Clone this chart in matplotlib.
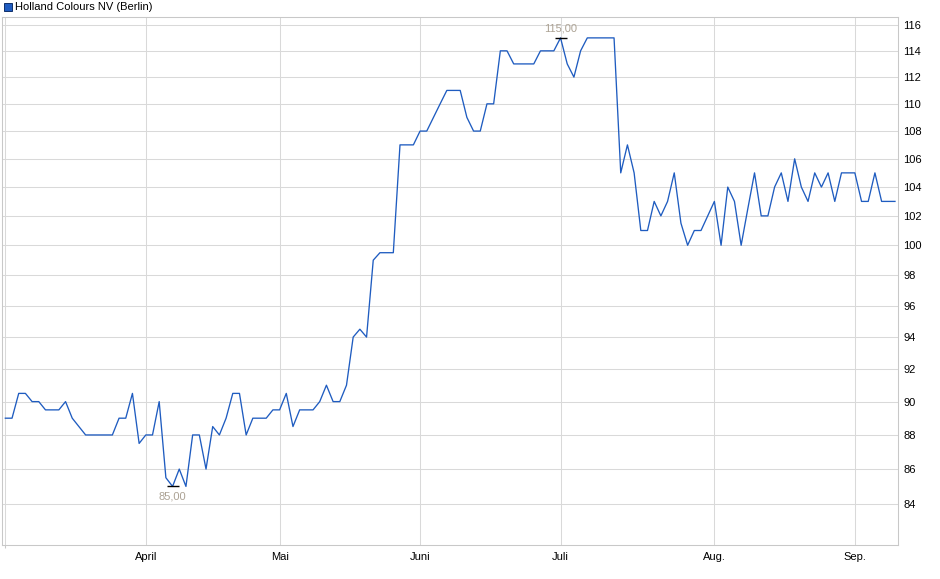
import numpy as np
import matplotlib
matplotlib.use('Agg')
import matplotlib.pyplot as plt
from matplotlib.ticker import FixedLocator, FixedFormatter, NullLocator, NullFormatter
from matplotlib.patches import Rectangle

# daily closing prices (trading days)
prices = [
    89, 89, 90.5, 90.5, 90, 90, 89.5, 89.5, 89.5, 90,
    89, 88.5, 88, 88, 88, 88, 88, 89, 89, 90.5,
    87.5, 88, 88, 90, 85.5, 85, 86, 85, 88, 88,
    86, 88.5, 88, 89, 90.5, 90.5, 88, 89, 89, 89,
    89.5, 89.5, 90.5, 88.5, 89.5, 89.5, 89.5, 90, 91, 90,
    90, 91, 94, 94.5, 94, 99, 99.5, 99.5, 99.5, 107,
    107, 107, 108, 108, 109, 110, 111, 111, 111, 109,
    108, 108, 110, 110, 114, 114, 113, 113, 113, 113,
    114, 114, 114, 115, 113, 112, 114, 115, 115, 115,
    115, 115, 105, 107, 105, 101, 101, 103, 102, 103,
    105, 101.5, 100, 101, 101, 102, 103, 100, 104, 103,
    100, 102.5, 105, 102, 102, 104, 105, 103, 106, 104,
    103, 105, 104, 105, 103, 105, 105, 105, 103, 103,
    105, 103, 103, 103,
]

# index of first trading day of each month
month_idx = [21, 41, 62, 83, 106, 127]
month_labels = ['April', 'Mai', 'Juni', 'Juli', 'Aug.', 'Sep.']

y_ticks = [84, 86, 88, 90, 92, 94, 96, 98, 100, 102, 104, 106, 108, 110, 112, 114, 116]

title = 'Holland Colours NV (Berlin)'

plt.rcParams['font.family'] = ['Liberation Sans', 'DejaVu Sans']

line_col = '#1f5cc0'
grid_col = '#d9d9d9'
spine_col = '#c8c8c8'
note_col = '#aca294'

fig = plt.figure(figsize=(9.4, 5.79), dpi=100)
ax = fig.add_axes([2 / 940, 34 / 579, 896 / 940, 528 / 579])

x = np.arange(len(prices))
ax.plot(x, prices, color=line_col, lw=0.95, zorder=3)

ax.set_yscale('log')
ax.set_ylim(81.71, 116.63)
ax.set_xlim(-0.5, 133.45)

ax.yaxis.set_major_locator(FixedLocator(y_ticks))
ax.yaxis.set_major_formatter(FixedFormatter([str(t) for t in y_ticks]))
ax.yaxis.set_minor_locator(NullLocator())
ax.yaxis.tick_right()
ax.tick_params(axis='y', length=0, pad=4, labelsize=8)

ax.xaxis.set_major_locator(FixedLocator(month_idx))
ax.xaxis.set_major_formatter(FixedFormatter(month_labels))
ax.tick_params(axis='x', which='major', length=0, pad=5, labelsize=8)
# start-of-data line with a small tick
ax.xaxis.set_minor_locator(FixedLocator([0]))
ax.xaxis.set_minor_formatter(NullFormatter())
ax.tick_params(axis='x', which='minor', length=2.5, width=0.75, color=spine_col)

ax.grid(True, which='major', color=grid_col, lw=0.75, zorder=0)
ax.grid(True, which='minor', axis='x', color=grid_col, lw=0.75, zorder=0)
for s in ax.spines.values():
    s.set_color(spine_col)
    s.set_linewidth(0.75)

# min / max annotations
prices_arr = np.array(prices)
i_min = int(np.argmin(prices_arr))
i_max = int(np.argmax(prices_arr))
ax.plot([i_min], [prices[i_min]], marker='_', ms=9, mew=1.0, color='black', zorder=4)
ax.plot([i_max], [prices[i_max]], marker='_', ms=9, mew=1.0, color='black', zorder=4)
ax.annotate(f'{prices[i_min]:.2f}'.replace('.', ','), (i_min, prices[i_min]),
            xytext=(0, -4), textcoords='offset points', ha='center', va='top',
            fontsize=8, color=note_col)
ax.annotate(f'{prices[i_max]:.2f}'.replace('.', ','), (i_max, prices[i_max]),
            xytext=(0, 3), textcoords='offset points', ha='center', va='bottom',
            fontsize=8, color=note_col)

# legend box at the top left
fig.patches.append(Rectangle((4 / 940, 1 - 11 / 579), 8 / 940, 8 / 579,
                             transform=fig.transFigure, facecolor=line_col,
                             edgecolor='#10306a', lw=0.7))
fig.text(15 / 940, 1 - 7 / 579, title, fontsize=8, va='center', ha='left', color='black')

fig.savefig('out.png', dpi=100)
